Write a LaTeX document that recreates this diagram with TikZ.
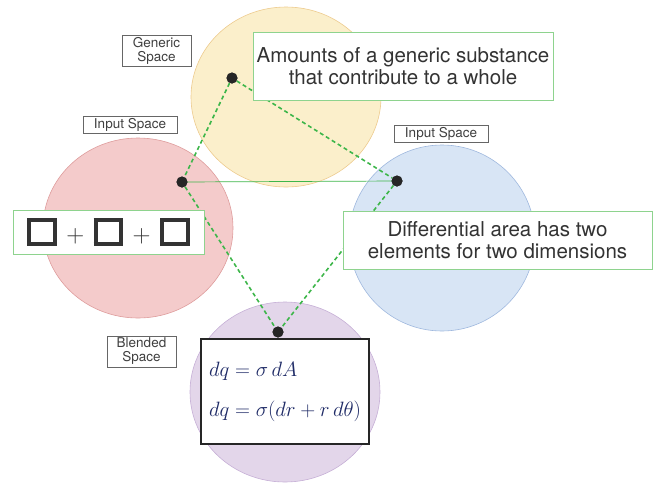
\documentclass[tikz,border=0pt]{standalone}
\usepackage{fontspec}
\setmainfont{TeX Gyre Heros}
\usepackage{xcolor}
\usetikzlibrary{positioning}

\definecolor{genfill}{HTML}{FBEFCB}
\definecolor{gendraw}{HTML}{EDCB8E}
\definecolor{redfill}{HTML}{F4CBCB}
\definecolor{reddraw}{HTML}{DE9C9C}
\definecolor{bluefill}{HTML}{D8E5F5}
\definecolor{bluedraw}{HTML}{9FB8DE}
\definecolor{purpfill}{HTML}{E3D6EA}
\definecolor{purpdraw}{HTML}{C6AFD6}
\definecolor{linkgreen}{HTML}{3DB64A}
\definecolor{boxgreen}{HTML}{8ED38E}
\definecolor{ink}{HTML}{1E2A66}

\newcommand{\hollowsq}{{\setlength{\fboxrule}{3.8pt}\setlength{\fboxsep}{0pt}\fbox{\rule{0pt}{20pt}\hspace{22pt}}}}

\begin{document}
\begin{tikzpicture}[
  x=1pt, y=-1pt,
  space/.style={line width=0.6pt},
  spacelabel/.style={rectangle, draw=black!60, fill=white, line width=0.6pt, font=\fontsize{13.5}{14}\selectfont, text=black!75, align=center, inner sep=1.5pt},
  note/.style={rectangle, draw=boxgreen, fill=white, line width=0.9pt, font=\fontsize{20.5}{22.5}\selectfont, text=black!80, align=center},
  dot/.style={circle, fill=black!85, inner sep=0pt, minimum size=11pt},
  mapping/.style={linkgreen, line width=1.6pt, dash pattern=on 4pt off 3pt},
  counterpart/.style={linkgreen, line width=0.7pt}
]
  \useasboundingbox (0,0) rectangle (654,483);

  % Mental spaces
  \draw[space, fill=genfill, draw=gendraw] (286,97) ellipse (95 and 90);
  \draw[space, fill=redfill, draw=reddraw] (138,228) ellipse (95 and 90);
  \draw[space, fill=bluefill, draw=bluedraw] (442,238) ellipse (93 and 93);
  \draw[space, fill=purpfill, draw=purpdraw] (285,392) ellipse (95 and 90);

  % Elements
  \node[dot] (gen) at (232,78) {};
  \node[dot] (inl) at (182,182) {};
  \node[dot] (inr) at (397,181) {};
  \node[dot] (blend) at (278,332) {};

  % Connections
  \draw[counterpart] (inl.center) -- (inr.center);
  \draw[mapping] (gen) -- (inl);
  \draw[mapping] (gen) -- (inr);
  \draw[mapping] (inl) -- (blend);
  \draw[mapping] (inr) -- (blend);
  \node[dot] at (gen) {};
  \node[dot] at (inl) {};
  \node[dot] at (inr) {};
  \node[dot] at (blend) {};

  % Space labels
  \node[spacelabel, minimum width=69pt, minimum height=31pt] (genlabel) at (156.5,50.5) {Generic\\Space};
  \node[spacelabel, minimum width=94pt, minimum height=17pt] (leftlabel) at (130,124.5) {Input Space};
  \node[spacelabel, minimum width=94pt, minimum height=17pt] (rightlabel) at (441,133.5) {Input Space};
  \node[spacelabel, minimum width=69pt, minimum height=31pt] (blendlabel) at (141.5,351.5) {Blended\\Space};

  % Notes
  \node[note, minimum width=300pt, minimum height=68pt] (amounts) at (403,66) {Amounts of a generic substance\\that contribute to a whole};
  \node[note, minimum width=309pt, minimum height=58pt] (diffarea) at (497.5,240) {Differential area has two\\elements for two dimensions};
  \node[note, minimum width=191pt, minimum height=44pt, inner sep=0pt, font=\fontsize{34}{34}\selectfont\color{black!85}] (sum) at (108.5,232)
    {\hollowsq\;$+$\;\hollowsq\;$+$\;\hollowsq};

  % Blended result
  \node[rectangle, draw=black!85, fill=white, line width=1.6pt, minimum width=162pt, minimum height=105pt, text=ink, align=left, font=\fontsize{21}{24}\selectfont, inner xsep=8pt] (result) at (285,391.5)
    {$dq = \sigma\, dA$\\[16pt]$dq = \sigma(dr + r\,d\theta)$\hspace{4pt}};
\end{tikzpicture}
\end{document}
